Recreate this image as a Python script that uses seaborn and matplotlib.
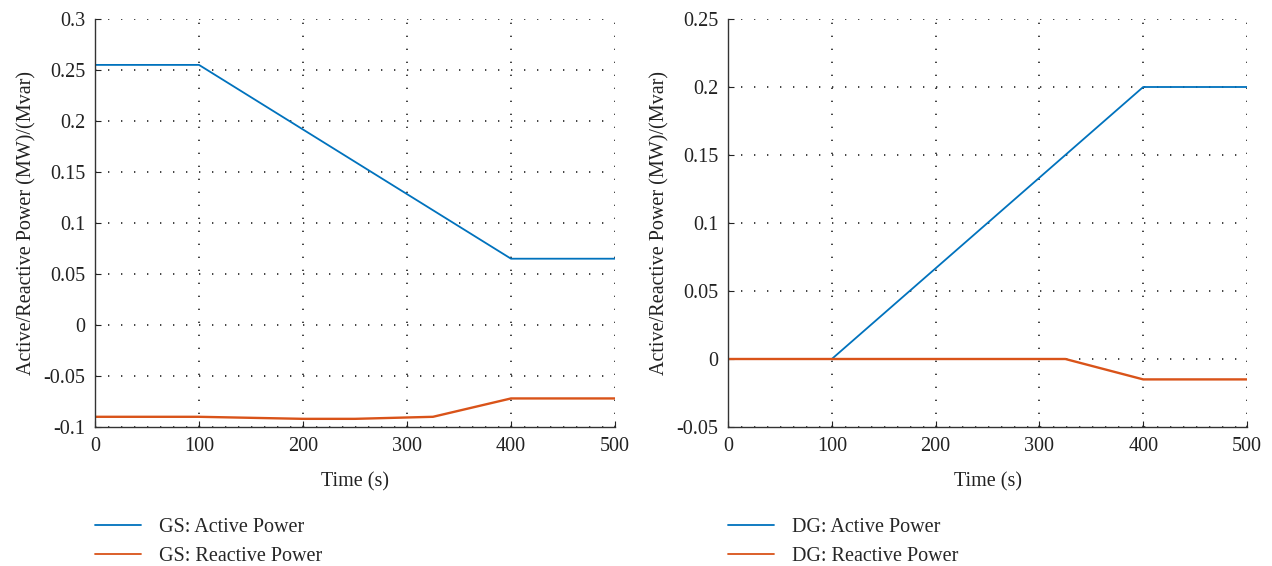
import numpy as np
import pandas as pd
import matplotlib
matplotlib.use("Agg")
import matplotlib.pyplot as plt
import seaborn as sns

# Breakpoints of the power profiles (time in s, power in MW / Mvar)
gs_active_t = [0, 100, 400, 500]
gs_active_p = [0.255, 0.255, 0.065, 0.065]
gs_reactive_t = [0, 100, 200, 250, 325, 400, 500]
gs_reactive_q = [-0.090, -0.090, -0.092, -0.092, -0.090, -0.072, -0.072]

dg_active_t = [0, 100, 400, 500]
dg_active_p = [0.0, 0.0, 0.200, 0.200]
dg_reactive_t = [0, 100, 325, 400, 500]
dg_reactive_q = [0.0, 0.0, 0.0, -0.015, -0.015]

left_ylim = (-0.1, 0.3)
left_yticks = [-0.1, -0.05, 0, 0.05, 0.1, 0.15, 0.2, 0.25, 0.3]
left_ylabels = ["-0.1", "-0.05", "0", "0.05", "0.1", "0.15", "0.2", "0.25", "0.3"]
right_ylim = (-0.05, 0.25)
right_yticks = [-0.05, 0, 0.05, 0.1, 0.15, 0.2, 0.25]
right_ylabels = ["-0.05", "0", "0.05", "0.1", "0.15", "0.2", "0.25"]
xticks = [0, 100, 200, 300, 400, 500]

sns.set_theme(style="white")
plt.rcParams["font.family"] = ["Liberation Serif", "DejaVu Serif"]

BLUE = "#0072BD"
ORANGE = "#D95319"

def build(label, at, ap, rt, rq):
    a = pd.DataFrame({"Time": at, "Power": ap, "Series": f"{label}: Active Power"})
    r = pd.DataFrame({"Time": rt, "Power": rq, "Series": f"{label}: Reactive Power"})
    return pd.concat([a, r], ignore_index=True)

fig = plt.figure(figsize=(12.72, 5.66), dpi=100)
ax1 = fig.add_axes([95 / 1272, 1 - 427 / 566, 520 / 1272, 408 / 566])
ax2 = fig.add_axes([728 / 1272, 1 - 427 / 566, 519 / 1272, 408 / 566])

panels = [
    (ax1, build("GS", gs_active_t, gs_active_p, gs_reactive_t, gs_reactive_q),
     left_ylim, left_yticks, left_ylabels),
    (ax2, build("DG", dg_active_t, dg_active_p, dg_reactive_t, dg_reactive_q),
     right_ylim, right_yticks, right_ylabels),
]

for ax, df, ylim, yt, yl in panels:
    names = list(df["Series"].unique())
    sns.lineplot(data=df, x="Time", y="Power", hue="Series", hue_order=names,
                 palette=[BLUE, ORANGE], ax=ax, linewidth=1.3, estimator=None,
                 sort=False)
    # reactive trace is drawn a little heavier
    ax.lines[1].set_linewidth(1.7)
    ax.set_xlim(0, 500)
    ax.set_ylim(*ylim)
    ax.set_xticks(xticks)
    ax.set_xticklabels([str(v) for v in xticks])
    ax.set_yticks(yt)
    ax.set_yticklabels(yl)
    ax.grid(True, color="#222222", linestyle=(0, (0.8, 7.0)), linewidth=1.2)
    for s in ["top", "right"]:
        ax.spines[s].set_visible(False)
    for s in ["left", "bottom"]:
        ax.spines[s].set_color("#333333")
        ax.spines[s].set_linewidth(1.0)
    ax.tick_params(axis="both", direction="in", length=4, width=0.8,
                   colors="#222222", labelsize=14.5, pad=7,
                   bottom=True, left=True)
    ax.set_xlabel("Time (s)", fontsize=14.5, color="#222222", labelpad=12)
    ax.set_ylabel("Active/Reactive Power (MW)/(Mvar)", fontsize=14.5,
                  color="#222222", labelpad=5)
    handles, labels = ax.get_legend_handles_labels()
    for h in handles:
        h.set_linewidth(1.3)
    ax.legend(handles, labels, loc="upper left", bbox_to_anchor=(0.0, -0.222),
              frameon=False, fontsize=14.5, handlelength=2.3, handletextpad=0.9,
              labelspacing=0.5, borderaxespad=0, borderpad=0)

fig.savefig("out.png", dpi=100)
